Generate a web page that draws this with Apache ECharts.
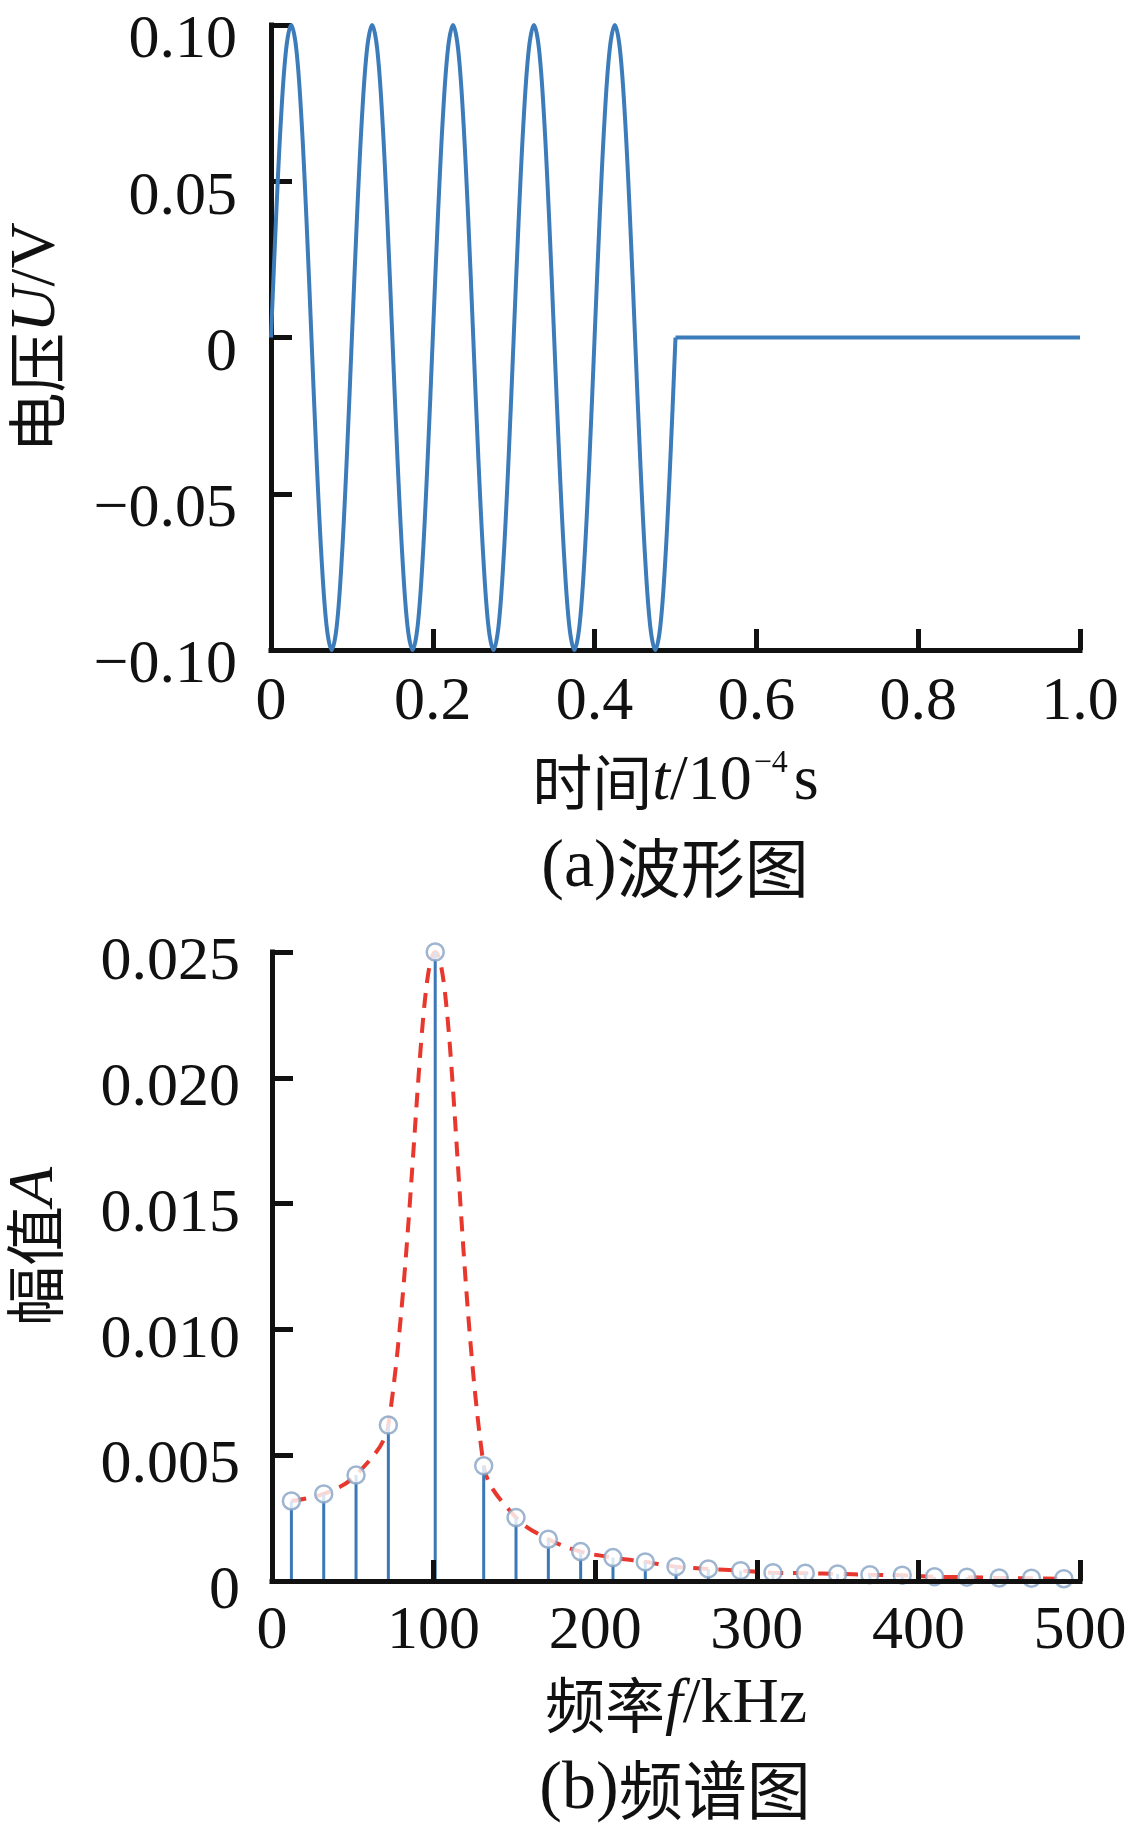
<!DOCTYPE html>
<html>
<head>
<meta charset="utf-8">
<script src="https://cdn.jsdelivr.net/npm/echarts@6/dist/echarts.min.js"></script>
<style>
html,body{margin:0;padding:0;background:#fff;}
#main{width:1127px;height:1829px;}
</style>
</head>
<body>
<div id="main"></div>
<script>
// ---------- (a) waveform data ----------
var waveTime = [
  0, 0.00625, 0.0125, 0.01875, 0.025, 0.03125, 0.0375, 0.04375, 0.05, 0.05625, 0.0625, 0.06875, 0.075, 0.08125, 0.0875, 0.09375, 0.1,
  0.10625, 0.1125, 0.11875, 0.125, 0.13125, 0.1375, 0.14375, 0.15, 0.15625, 0.1625, 0.16875, 0.175, 0.18125, 0.1875, 0.19375, 0.2,
  0.20625, 0.2125, 0.21875, 0.225, 0.23125, 0.2375, 0.24375, 0.25, 0.25625, 0.2625, 0.26875, 0.275, 0.28125, 0.2875, 0.29375, 0.3,
  0.30625, 0.3125, 0.31875, 0.325, 0.33125, 0.3375, 0.34375, 0.35, 0.35625, 0.3625, 0.36875, 0.375, 0.38125, 0.3875, 0.39375, 0.4,
  0.40625, 0.4125, 0.41875, 0.425, 0.43125, 0.4375, 0.44375, 0.45, 0.45625, 0.4625, 0.46875, 0.475, 0.48125, 0.4875, 0.49375, 0.5
];
var waveVolt = [
  0, 0.0383, 0.0707, 0.0924, 0.1, 0.0924, 0.0707, 0.0383, 0, -0.0383, -0.0707, -0.0924, -0.1, -0.0924, -0.0707, -0.0383, 0,
  0.0383, 0.0707, 0.0924, 0.1, 0.0924, 0.0707, 0.0383, 0, -0.0383, -0.0707, -0.0924, -0.1, -0.0924, -0.0707, -0.0383, 0,
  0.0383, 0.0707, 0.0924, 0.1, 0.0924, 0.0707, 0.0383, 0, -0.0383, -0.0707, -0.0924, -0.1, -0.0924, -0.0707, -0.0383, 0,
  0.0383, 0.0707, 0.0924, 0.1, 0.0924, 0.0707, 0.0383, 0, -0.0383, -0.0707, -0.0924, -0.1, -0.0924, -0.0707, -0.0383, 0,
  0.0383, 0.0707, 0.0924, 0.1, 0.0924, 0.0707, 0.0383, 0, -0.0383, -0.0707, -0.0924, -0.1, -0.0924, -0.0707, -0.0383, 0
];
var tailTime = [0.5, 1.0];
var tailVolt = [0, 0];
var waveXTicks = ['0', '0.2', '0.4', '0.6', '0.8', '1.0'];
var waveYTicks = ['\u22120.10', '\u22120.05', '0', '0.05', '0.10'];

// ---------- (b) spectrum data ----------
var specFreq = [12, 32, 52, 72, 101, 131, 151, 171, 191, 211, 231, 250, 270, 290, 310, 330, 350, 370, 390, 410, 430, 450, 470, 490];
var specAmp = [0.00318, 0.00346, 0.00421, 0.0062, 0.025, 0.00458, 0.00252, 0.00166, 0.00117, 0.00093, 0.00076, 0.00057,
               0.00048, 0.00041, 0.00033, 0.00031, 0.00028, 0.00025, 0.00023, 0.00017, 0.00015, 0.00012, 0.00011, 0.00009];
var specXTicks = ['0', '100', '200', '300', '400', '500'];
var specYTicks = ['0', '0.005', '0.010', '0.015', '0.020', '0.025'];

function pairs(xs, ys) { return xs.map(function (x, i) { return [x, ys[i]]; }); }

var SERIF = '"Liberation Serif", "Times New Roman", serif';
var CJK = '"Noto Sans CJK SC", sans-serif';
var TXT = '#111';

var axisLineStyle = { show: true, onZero: false, lineStyle: { color: TXT, width: 5, cap: 'square' } };
var axisTickStyle = { show: true, inside: true, length: 21, lineStyle: { color: TXT, width: 5 } };

var nameRich = {
  cn: { fontFamily: CJK, fontSize: 60, color: TXT, lineHeight: 68 },
  it: { fontFamily: SERIF, fontStyle: 'italic', fontSize: 64, color: TXT, lineHeight: 68 },
  r: { fontFamily: SERIF, fontSize: 64, color: TXT, lineHeight: 68 },
  sup: { fontFamily: SERIF, fontSize: 32, color: TXT, lineHeight: 68, verticalAlign: 'top', padding: [0, 6, 0, 2] }
};

function tickLabel(arr, shift) {
  return {
    formatter: function (v, i) { return '{a|' + arr[i] + '}'; },
    rich: { a: { fontFamily: SERIF, fontSize: 62, color: TXT, lineHeight: 62, padding: [shift, 0, 0, 0] } }
  };
}

var chart = echarts.init(document.getElementById('main'), null, { renderer: 'canvas' });

var option = {
  backgroundColor: '#fff',
  animation: false,
  grid: [
    { left: 271, right: 47, top: 25, height: 625, containLabel: false, outerBoundsMode: 'none' },
    { left: 272, right: 47, top: 952, height: 629, containLabel: false, outerBoundsMode: 'none' }
  ],
  xAxis: [
    {
      gridIndex: 0, type: 'value', min: 0, max: 1, interval: 0.2,
      axisLine: axisLineStyle, axisTick: axisTickStyle, splitLine: { show: false },
      axisLabel: Object.assign({ margin: 22 }, tickLabel(waveXTicks, 0)),
      name: '{cn|时间}{it|t}{r|/10}{sup|\u22124}{r|s}',
      nameLocation: 'middle', nameGap: 98,
      nameTextStyle: { rich: nameRich }
    },
    {
      gridIndex: 1, type: 'value', min: 0, max: 500, interval: 100, z: 5,
      axisLine: axisLineStyle, axisTick: axisTickStyle, splitLine: { show: false },
      axisLabel: Object.assign({ margin: 20 }, tickLabel(specXTicks, 0)),
      name: '{cn|频率}{it|f}{r|/kHz}',
      nameLocation: 'middle', nameGap: 90,
      nameTextStyle: { rich: nameRich }
    }
  ],
  yAxis: [
    {
      gridIndex: 0, type: 'value', min: -0.1, max: 0.1, interval: 0.05,
      axisLine: axisLineStyle, axisTick: axisTickStyle, splitLine: { show: false },
      axisLabel: Object.assign({ margin: 34 }, tickLabel(waveYTicks, 32)),
      name: '{cn|电压}{it|U}{r|/V}',
      nameLocation: 'middle', nameGap: 200,
      nameTextStyle: { rich: nameRich }
    },
    {
      gridIndex: 1, type: 'value', min: 0, max: 0.025, interval: 0.005,
      axisLine: axisLineStyle, axisTick: axisTickStyle, splitLine: { show: false },
      axisLabel: Object.assign({ margin: 32 }, tickLabel(specYTicks, 22)),
      name: '{cn|幅值}{it|A}',
      nameLocation: 'middle', nameGap: 203,
      nameTextStyle: { rich: nameRich, padding: [0, 0, 0, 40] }
    }
  ],
  series: [
    {
      name: 'wave', type: 'line', xAxisIndex: 0, yAxisIndex: 0,
      data: pairs(waveTime, waveVolt), smooth: 0.35, showSymbol: false,
      lineStyle: { color: '#3d7cba', width: 4 }, z: 3
    },
    {
      name: 'tail', type: 'line', xAxisIndex: 0, yAxisIndex: 0,
      data: pairs(tailTime, tailVolt), showSymbol: false,
      lineStyle: { color: '#3d7cba', width: 4 }, z: 3
    },
    {
      name: 'envelope', type: 'line', xAxisIndex: 1, yAxisIndex: 1,
      data: pairs(specFreq, specAmp), smooth: 0.35, showSymbol: false,
      lineStyle: { color: '#e8372c', width: 4, type: [15, 10] }, z: 2
    },
    {
      name: 'stems', type: 'custom', xAxisIndex: 1, yAxisIndex: 1,
      data: pairs(specFreq, specAmp),
      renderItem: function (params, api) {
        var p0 = api.coord([api.value(0), 0]);
        var p1 = api.coord([api.value(0), api.value(1)]);
        return { type: 'line', shape: { x1: p0[0], y1: p0[1], x2: p1[0], y2: p1[1] },
                 style: { stroke: '#3b78b8', lineWidth: 3 } };
      },
      z: 3
    },
    {
      name: 'points', type: 'scatter', xAxisIndex: 1, yAxisIndex: 1,
      data: pairs(specFreq, specAmp), symbol: 'circle', symbolSize: 17,
      itemStyle: { color: '#fff', borderColor: '#86a3c4', borderWidth: 2.5 }, z: 4
    }
  ],
  graphic: [
    {
      type: 'text', x: 675, y: 868,
      style: {
        text: '{r|(a)}{cn|波形图}', align: 'center', verticalAlign: 'middle',
        rich: {
          r: { fontFamily: SERIF, fontSize: 68, fill: TXT },
          cn: { fontFamily: CJK, fontSize: 64, fill: TXT }
        }
      }
    },
    {
      type: 'text', x: 675, y: 1790,
      style: {
        text: '{r|(b)}{cn|频谱图}', align: 'center', verticalAlign: 'middle',
        rich: {
          r: { fontFamily: SERIF, fontSize: 68, fill: TXT },
          cn: { fontFamily: CJK, fontSize: 64, fill: TXT }
        }
      }
    }
  ]
};
chart.setOption(option);
</script>
</body>
</html>
